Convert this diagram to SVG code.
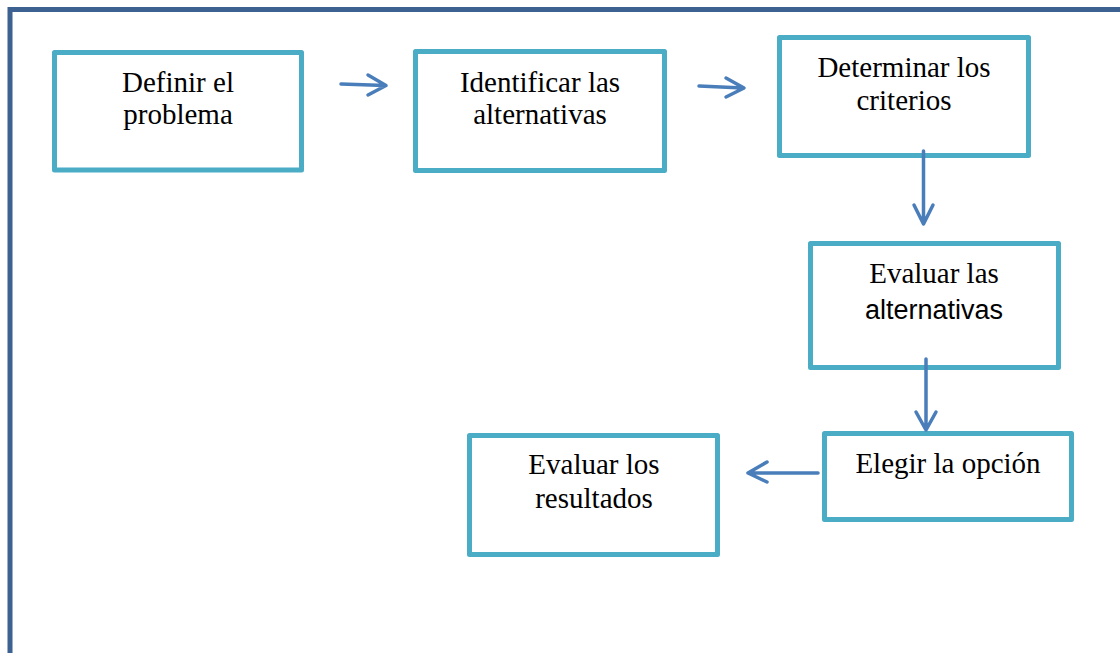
<svg xmlns="http://www.w3.org/2000/svg" width="1120" height="653" viewBox="0 0 1120 653">
<defs>
<style>
.box{fill:#ffffff;stroke:#4bacc6;stroke-width:5;stroke-linejoin:round}
.t{font-family:"Liberation Serif","Times New Roman",serif;font-size:29px;fill:#000;text-anchor:middle}
.s{font-family:"Liberation Sans",Arial,sans-serif;font-size:27px;fill:#000;text-anchor:middle}
.c{fill:none;stroke:#4a7ebb;stroke-width:3.5;stroke-linecap:round;stroke-linejoin:round}
</style>
</defs>
<rect width="1120" height="653" fill="#ffffff"/>
<path d="M10 660 V9.5 H1130" fill="none" stroke="#3d6190" stroke-width="5"/>
<g id="n1">
<rect class="box" x="54.5" y="52.5" width="247" height="117.5"/>
<text class="t" x="178" y="92">Definir el</text>
<text class="t" x="178" y="124">problema</text>
</g>
<g id="n2">
<rect class="box" x="415.5" y="51.5" width="249" height="119"/>
<text class="t" x="540" y="92">Identificar las</text>
<text class="t" x="540" y="124">alternativas</text>
</g>
<g id="n3">
<rect class="box" x="779.5" y="37.5" width="249" height="118"/>
<text class="t" x="904" y="77">Determinar los</text>
<text class="t" x="904" y="110">criterios</text>
</g>
<g id="n4">
<rect class="box" x="810.5" y="243.5" width="248" height="124"/>
<text class="t" x="934" y="283">Evaluar las</text>
<text class="s" x="934" y="319">alternativas</text>
</g>
<g id="n5">
<rect class="box" x="824.5" y="433.5" width="247" height="86"/>
<text class="t" x="948" y="473">Elegir la opción</text>
</g>
<g id="n6">
<rect class="box" x="469.5" y="435.5" width="248" height="119"/>
<text class="t" x="594" y="474">Evaluar los</text>
<text class="t" x="594" y="508">resultados</text>
</g>
<g id="connectors">
<path class="c" d="M341 84 L385 85.5 M368 75 L386 85.5 L368 95"/>
<path class="c" d="M699 86 L743 88 M726 78 L744 88 L726 97"/>
<path class="c" d="M923.5 151 V224 M914 205 L923.5 224 L933 205"/>
<path class="c" d="M926 359 V430 M916 412 L926 430 L936 412"/>
<path class="c" d="M818 473 H749 M767 462 L748 473 L767 482"/>
</g>
</svg>
